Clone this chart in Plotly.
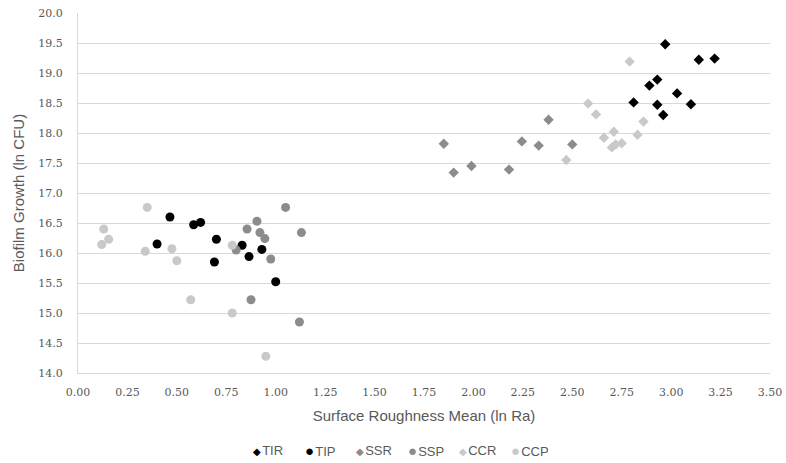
import plotly.graph_objects as go

tir_x = [2.97, 3.14, 3.22, 2.93, 2.89, 3.03, 2.81, 2.93, 3.10, 2.96]
tir_y = [19.48, 19.22, 19.24, 18.89, 18.79, 18.66, 18.51, 18.47, 18.48, 18.30]

tip_x = [0.465, 0.40, 0.585, 0.62, 0.70, 0.69, 0.83, 0.865, 0.93, 1.00]
tip_y = [16.60, 16.15, 16.47, 16.51, 16.23, 15.85, 16.13, 15.94, 16.06, 15.52]

ssr_x = [1.85, 1.90, 1.99, 2.18, 2.245, 2.33, 2.38, 2.50]
ssr_y = [17.82, 17.34, 17.45, 17.39, 17.86, 17.79, 18.22, 17.81]

ssp_x = [1.05, 0.905, 0.855, 0.92, 0.945, 1.13, 0.80, 0.975, 0.875, 1.12]
ssp_y = [16.76, 16.53, 16.40, 16.34, 16.24, 16.34, 16.05, 15.90, 15.22, 14.85]

ccr_x = [2.79, 2.58, 2.62, 2.86, 2.71, 2.83, 2.66, 2.75, 2.72, 2.70, 2.47]
ccr_y = [19.19, 18.49, 18.31, 18.19, 18.02, 17.97, 17.92, 17.83, 17.81, 17.76, 17.55]

ccp_x = [0.13, 0.155, 0.12, 0.35, 0.34, 0.475, 0.50, 0.57, 0.78, 0.78, 0.95]
ccp_y = [16.40, 16.23, 16.14, 16.76, 16.03, 16.07, 15.87, 15.22, 15.00, 16.13, 14.28]

series = [
    ("TIR", tir_x, tir_y, "diamond", "#000000", 8, "\u25c6", 10),
    ("TIP", tip_x, tip_y, "circle", "#000000", 9, "\u25cf", 15),
    ("SSR", ssr_x, ssr_y, "diamond", "#8c8c8c", 8, "\u25c6", 10),
    ("SSP", ssp_x, ssp_y, "circle", "#8c8c8c", 9, "\u25cf", 15),
    ("CCR", ccr_x, ccr_y, "diamond", "#c9c9c9", 8, "\u25c6", 10),
    ("CCP", ccp_x, ccp_y, "circle", "#c9c9c9", 9, "\u25cf", 15),
]

fig = go.Figure()
for name, xs, ys, sym, col, sz, glyph, gsz in series:
    fig.add_trace(go.Scatter(x=xs, y=ys, mode="markers", name=name, showlegend=False,
                             marker=dict(symbol=sym, color=col, size=sz,
                                         line=dict(width=0))))

# legend drawn as a row of text items below the axis title
leg_left_px = 251
leg_step_px = 51.5
plot_left, plot_w = 78, 692
for i, (name, xs, ys, sym, col, sz, glyph, gsz) in enumerate(series):
    fig.add_annotation(
        xref="paper", yref="paper",
        x=(leg_left_px + i * leg_step_px - plot_left) / plot_w, y=-0.214,
        xanchor="left", yanchor="middle", showarrow=False,
        text=(f"<span style='color:{col};font-size:{gsz}px'>{glyph}</span>"
              f"<span style='font-size:4px'> </span>{name}"),
        font=dict(family="Liberation Sans", size=13, color="#595959"),
    )

tick_font = dict(family="DejaVu Serif", size=11, color="#595959")
title_font = dict(family="Liberation Sans", size=15, color="#595959")

fig.update_layout(
    width=786, height=463,
    margin=dict(l=78, r=16, t=13, b=90, autoexpand=False),
    paper_bgcolor="white", plot_bgcolor="white",
    showlegend=False,
    xaxis=dict(range=[0, 3.5], dtick=0.25, tick0=0, tickformat=".2f",
               showgrid=False, showline=True, linecolor="#d9d9d9", linewidth=1,
               zeroline=False, ticks="", tickfont=tick_font, ticklabelstandoff=9,
               title=dict(text="Surface Roughness Mean (ln Ra)", font=title_font, standoff=12)),
    yaxis=dict(range=[14, 20], dtick=0.5, tick0=14, tickformat=".1f",
               showgrid=True, gridcolor="#d9d9d9", gridwidth=1,
               showline=True, linecolor="#d9d9d9", linewidth=1,
               zeroline=False, ticks="", tickfont=tick_font, ticklabelstandoff=12,
               title=dict(text="Biofilm Growth (ln CFU)", font=title_font, standoff=10)),
)

fig.write_html("out.html", config={"displayModeBar": False},
               post_script="document.body.style.margin='0';")
